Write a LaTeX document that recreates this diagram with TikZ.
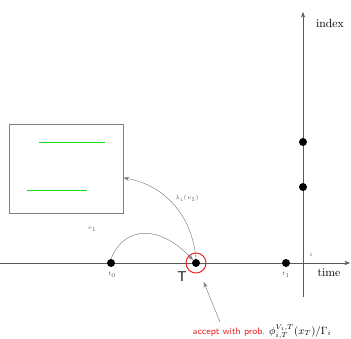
\documentclass[tikz,border=0pt]{standalone}
\usepackage{tikz}
\usetikzlibrary{arrows.meta,positioning}
\definecolor{axisGray}{RGB}{90,90,90}
\definecolor{lineGreen}{RGB}{20,220,20}
\definecolor{acceptRed}{RGB}{235,30,30}

\begin{document}
\begin{tikzpicture}[x=0.03cm, y=-0.03cm, >=Stealth,
  dot/.style={circle, fill=black, inner sep=0pt, minimum size=0.24cm},
  tick/.style={font=\tiny, text=axisGray},
  link/.style={->, gray, thin}]
\useasboundingbox (0,0) rectangle (351,339);
% axes
\draw[->, axisGray] (0,263) -- (350,263);
\draw[->, axisGray] (303,297) -- (303,12);
\node[font=\normalsize] (time) at (329,273) {time};
\node[font=\normalsize] (index) at (330,23) {index};
\node[tick] (ilab) at (311,255) {i};
% points in time
\node[dot] (t0) at (111,263) {};
\node[dot] (T) at (196,263) {};
\node[dot] (t1) at (286,263) {};
\node[dot] (i1) at (303,187) {};
\node[dot] (i2) at (303,142) {};
\node[circle, draw=acceptRed, thick, minimum size=0.6cm] (ring) at (T) {};
\node[tick] at (112,275) {$t_0$};
\node[tick] at (286,275) {$t_1$};
\node[font=\large\sffamily] at (182,277) {T};
% state box
\node[draw=gray, thick, minimum width=3.42cm, minimum height=2.67cm] (box) at (66,168.5) {};
\draw[lineGreen, thick] (39,142) -- (105,142);
\draw[lineGreen, thick] (27,190) -- (87,190);
\node[tick] at (92,229) {$v_1$};
% moves
\draw[link] (t0.north) .. controls (125,225) and (160,225) .. (T.north west);
\draw[link] (T.north) to[out=95, in=-10] ([yshift=-0.28cm]box.east);
\node[tick] at (187,198) {$\lambda_i(v_1)$};
% acceptance
\node[font=\sffamily\footnotesize, text=acceptRed, inner sep=0pt] (accept) at (229,332) {accept with prob.};
\node[font=\small, right=3pt of accept.east, anchor=base west, inner sep=0pt] (prob) at (accept.base east) {$\phi_{i,T}^{V_i,T}(x_T)/\Gamma_i$};
\coordinate (src) at (220,322);
\draw[link, shorten >=0.3cm] (src) -- (ring);
\end{tikzpicture}
\end{document}
